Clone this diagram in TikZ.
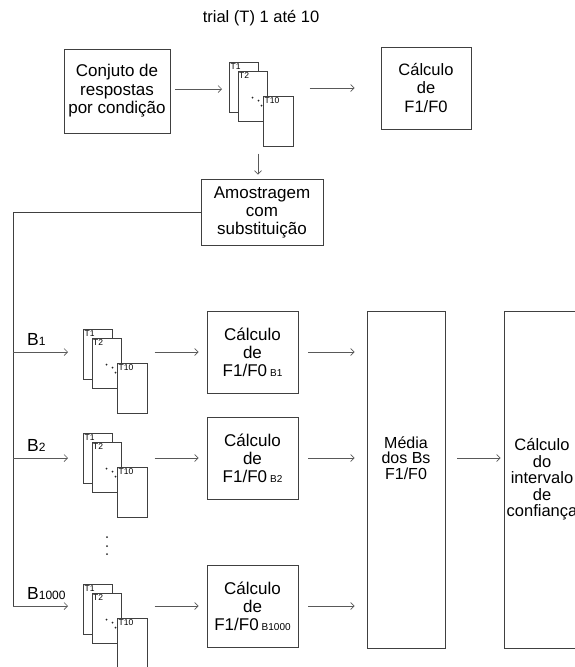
\documentclass[tikz,border=0pt]{standalone}
\usepackage{fontspec}
\setmainfont{Liberation Sans}
\usetikzlibrary{calc,arrows.meta}

\tikzset{
  box/.style={draw=black!75, line width=0.8pt, align=center, inner sep=0pt,
    font=\fontsize{17}{18}\selectfont},
  card/.style={draw=black!75, line width=0.7pt, fill=white, minimum width=29pt,
    minimum height=50pt, inner sep=0pt, anchor=north west},
  tag/.style={anchor=north west, inner sep=1.5pt, font=\fontsize{8.5}{9}\selectfont},
  arr/.style={-{Straight Barb[length=3.5pt,width=7pt]}, draw=black!65, line width=0.7pt},
  link/.style={draw=black!75, line width=0.8pt},
}

% big B with index, and small index inside the boxes
\newcommand{\Bidx}[1]{{\fontsize{17.5}{17.5}\selectfont B}{\fontsize{12}{12}\selectfont #1}}
\newcommand{\bidx}[1]{\hspace{3pt}{\fontsize{10}{10}\selectfont B#1}}

% three trial cards: name, x and y of the first card
\newcommand{\cardstack}[3]{%
  \node[card] (#1-1) at (#2,#3) {};
  \node[tag] (#1-1t) at (#1-1.north west) {T1};
  \node[card] (#1-2) at ([shift={(8.5pt,-8.5pt)}]#1-1.north west) {};
  \node[tag] (#1-2t) at (#1-2.north west) {T2};
  \node[card, minimum width=30pt] (#1-10) at ([shift={(34pt,-34pt)}]#1-1.north west) {};
  \node[tag] (#1-10t) at (#1-10.north west) {T10};
  \fill[black!85] ([shift={(15pt,-27pt)}]#1-2.north west) circle (1pt)
    ([shift={(21pt,-30pt)}]#1-2.north west) circle (1pt)
    ([shift={(24pt,-35pt)}]#1-2.north west) circle (1pt);
}

\begin{document}
\begin{tikzpicture}[x=1pt, y=-1pt]
\useasboundingbox (0,0) rectangle (575,667);

% top row
\node[font=\fontsize{16.5}{18}\selectfont] (title) at (261,18) {trial (T) 1 até 10};
\node[box, minimum width=106pt, minimum height=84pt, font=\fontsize{17}{18.5}\selectfont]
  (conj) at (117,91) {Conjuto de\\respostas\\por condição};
\cardstack{s0}{229}{62}
\node[box, minimum width=90pt, minimum height=82pt, font=\fontsize{16.5}{18.5}\selectfont]
  (calc0) at (426,88) {Cálculo\\de\\F1/F0};
\node[box, minimum width=122pt, minimum height=66pt] (amos) at (262,212)
  {Amostragem\\com\\substituição};

\draw[arr] ([shift={(5pt,2pt)}]conj.east) -- ([shift={(-7pt,2pt)}]conj.east -| s0-1.west);
\draw[arr] ([xshift=16pt]calc0.west -| s0-10.east) -- ([xshift=-26pt]calc0.west);
\draw[arr] ([shift={(-4pt,-7pt)}]amos.north |- s0-10.south) -- ([shift={(-4pt,4pt)}]amos.north);

% bootstrap rows
\cardstack{s1}{83}{329}
\cardstack{s2}{83}{433}
\cardstack{s3}{83}{584}

\node[box, minimum width=91pt, minimum height=82pt] (calc1) at (252.5,352)
  {Cálculo\\de\\F1/F0\bidx{1}};
\node[box, minimum width=91pt, minimum height=82pt] (calc2) at (252.5,458)
  {Cálculo\\de\\F1/F0\bidx{2}};
\node[box, minimum width=91pt, minimum height=82pt] (calc3) at (252.5,606.5)
  {Cálculo\\de\\F1/F0\bidx{1000}};

\node[box, minimum width=78pt, minimum height=337pt] (media) at (406,479.5) {};
\node[align=center, font=\fontsize{16}{15.5}\selectfont] (mediatxt) at (406,458)
  {Média\\dos Bs\\F1/F0};
\node[box, minimum width=76pt, minimum height=337pt, font=\fontsize{16.5}{16.5}\selectfont]
  (conf) at (542,479.5) {Cálculo\\do\\intervalo\\de\\confiança};

% bus from the sampling box
\coordinate (bus1) at (13,352);
\coordinate (bus2) at (13,458);
\coordinate (bus3) at (13,606);
\draw[link] (amos.west) -| (bus3);
\foreach \i in {1,2,3}{
  \draw[arr] (bus\i) -- ([xshift=-15pt]bus\i -| s\i-1.west);
  \draw[arr] ([xshift=7pt]bus\i -| s\i-10.east) -- ([xshift=-8pt]bus\i -| calc\i.west);
  \draw[arr] ([xshift=10pt]bus\i -| calc\i.east) -- ([xshift=-12pt]bus\i -| media.west);
}
\node[anchor=base west, inner sep=0pt] (lb1) at ([shift={(14pt,7pt)}]bus1) {\Bidx{1}};
\node[anchor=base west, inner sep=0pt] (lb2) at ([shift={(14pt,7pt)}]bus2) {\Bidx{2}};
\node[anchor=base west, inner sep=0pt] (lb3) at ([shift={(14pt,7pt)}]bus3) {\Bidx{1000}};

\fill[black!85] (107,537) circle (1pt) (107,546) circle (1pt) (107,554) circle (1pt);

\draw[arr] ([xshift=12pt]mediatxt.center -| media.east) -- ([xshift=-3pt]mediatxt.center -| conf.west);
\end{tikzpicture}
\end{document}
